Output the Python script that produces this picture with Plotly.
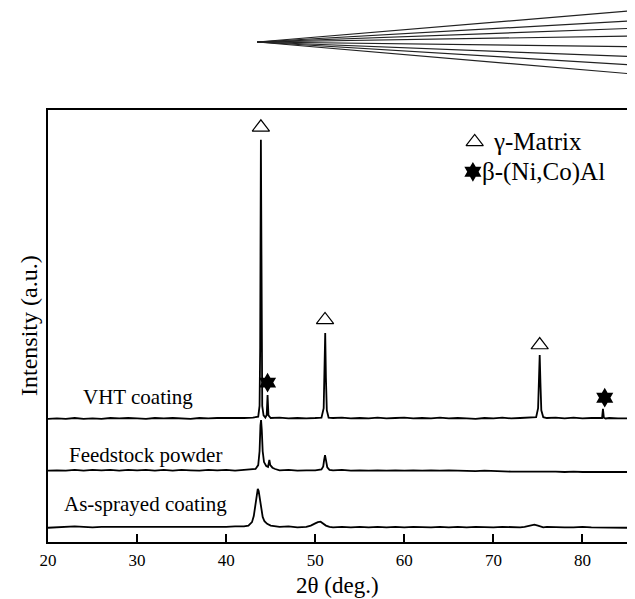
import plotly.graph_objects as go

# ---------------- data (2θ in degrees, intensity in arbitrary stacked units) ----------------
vht_x = [20, 21, 22, 23, 24, 25, 26, 27, 28, 29, 30, 31, 32, 33, 34, 35, 36, 37, 38, 39, 40, 41, 42, 43,
         43.6, 43.75, 43.82, 43.9, 43.97, 44.05, 44.2, 44.4, 44.55, 44.65, 44.75, 45.0, 46, 47, 48, 49, 50,
         50.7, 50.95, 51.05, 51.12, 51.2, 51.3, 51.5, 52, 53, 54, 55, 56, 57, 58, 59, 60, 61, 62, 63, 64,
         65, 66, 67, 68, 69, 70, 71, 72, 73, 74, 74.8, 75.02, 75.12, 75.2, 75.28, 75.38, 75.6, 76, 77, 78,
         79, 80, 81, 82, 82.2, 82.3, 82.4, 82.6, 83, 84, 85]
vht_y = [28.5, 28.6, 28.5, 28.7, 28.5, 28.6, 28.5, 28.7, 28.6, 28.7, 28.6, 28.5, 28.7, 28.6, 28.7, 28.6, 28.5, 28.7, 28.6, 28.7, 28.7, 28.6, 28.7, 28.8,
         29.0, 31.5, 45.0, 93.1, 45.0, 31.5, 29.3, 28.8, 29.4, 34.0, 29.3, 28.7, 28.8, 28.6, 28.7, 28.6, 28.7,
         28.8, 31.0, 38.0, 48.4, 38.0, 30.5, 28.8, 28.7, 28.8, 28.6, 28.7, 28.6, 28.8, 28.6, 28.7, 28.8, 28.6, 28.7, 28.6, 28.8,
         28.6, 28.7, 28.6, 28.5, 28.7, 28.6, 28.8, 28.6, 28.7, 28.8, 28.9, 31.0, 37.0, 43.3, 37.0, 30.5, 28.9, 28.7, 28.8, 28.6,
         28.8, 28.6, 28.7, 28.6, 28.7, 30.8, 28.8, 28.6, 28.7, 28.6, 28.6]

feed_x = [20, 21, 22, 23, 24, 25, 26, 27, 28, 29, 30, 31, 32, 33, 34, 35, 36, 37, 38, 39, 40, 41, 42, 43,
          43.3, 43.6, 43.75, 43.85, 43.92, 44.0, 44.1, 44.25, 44.5, 44.7, 44.85, 44.95, 45.2, 45.5, 46, 47, 48, 49, 50,
          50.7, 50.9, 51.0, 51.1, 51.2, 51.35, 51.6, 52, 53, 54, 55, 56, 57, 58, 59, 60, 61, 62, 63, 64,
          65, 66, 67, 68, 69, 70, 71, 72, 73, 74, 75, 76, 77, 78, 79, 80, 81, 82, 83, 84, 85]
feed_y = [16.5, 16.6, 16.5, 16.7, 16.5, 16.7, 16.6, 16.7, 16.5, 16.7, 16.6, 16.7, 16.5, 16.7, 16.5, 16.7, 16.6, 16.5, 16.7, 16.6, 16.7, 16.5, 16.7, 16.8,
          16.9, 17.8, 21.0, 27.0, 28.2, 26.0, 21.0, 18.5, 17.6, 17.4, 19.0, 17.8, 17.2, 16.9, 16.6, 16.7, 16.5, 16.6, 16.6,
          16.8, 17.5, 19.0, 20.1, 19.0, 17.3, 16.7, 16.6, 16.7, 16.5, 16.6, 16.5, 16.6, 16.5, 16.6, 16.5, 16.6, 16.5, 16.6, 16.5,
          16.6, 16.5, 16.5, 16.4, 16.5, 16.4, 16.4, 16.3, 16.3, 16.3, 16.4, 16.3, 16.3, 16.2, 16.3, 16.2, 16.2, 16.2, 16.2, 16.2, 16.2]

spray_x = [20, 21, 22, 23, 24, 25, 26, 27, 28, 29, 30, 31, 32, 33, 34, 35, 36, 37, 38, 39, 40, 41, 42,
           42.5, 42.9, 43.1, 43.3, 43.45, 43.55, 43.65, 43.8, 43.95, 44.1, 44.3, 44.6, 45, 46, 47, 48, 49,
           49.5, 50, 50.3, 50.6, 50.9, 51.2, 51.6, 52, 53, 54, 55, 56, 57, 58, 59, 60, 61, 62, 63, 64,
           65, 66, 67, 68, 69, 70, 71, 72, 73, 73.5, 74.2, 74.6, 75, 75.6, 76, 77, 78, 79, 80, 81, 82, 83, 84, 85]
spray_y = [3.3, 3.4, 3.4, 3.6, 3.5, 3.4, 3.5, 3.5, 3.4, 3.5, 3.4, 3.5, 3.5, 3.4, 3.5, 3.4, 3.5, 3.5, 3.4, 3.5, 3.5, 3.6, 3.6,
           3.8, 4.6, 6.0, 9.0, 11.6, 12.3, 11.8, 9.5, 7.2, 5.8, 4.8, 4.2, 3.8, 3.5, 3.6, 3.4, 3.5,
           3.8, 4.3, 4.6, 4.7, 4.3, 3.8, 3.5, 3.4, 3.5, 3.4, 3.5, 3.4, 3.5, 3.4, 3.5, 3.4, 3.5, 3.4, 3.4, 3.5,
           3.4, 3.5, 3.4, 3.5, 3.4, 3.4, 3.5, 3.4, 3.4, 3.5, 3.9, 4.0, 3.8, 3.4, 3.5, 3.4, 3.4, 3.4, 3.5, 3.4, 3.4, 3.4, 3.4, 3.3]

# phase markers above the VHT peaks
gamma_x = [43.9, 51.1, 75.2]
gamma_y = [96.0, 51.4, 45.6]
beta_x = [44.65, 82.5]
beta_y = [36.9, 33.4]

trace_labels = ["VHT coating", "Feedstock powder", "As-sprayed coating"]
label_x = [30.05, 30.9, 30.9]
label_y = [33.6, 20.1, 8.8]

legend_texts = ["γ-Matrix", "β-(Ni,Co)Al"]

x_ticks = [20, 30, 40, 50, 60, 70, 80]
x_range = [20, 85]
y_range = [0, 100]

FONT = "Liberation Serif, Times New Roman, serif"
PAGE = 8                      # default body margin of the html page
W, H = 635 - PAGE, 599 - PAGE
ML, MR, MT, MB = 48 - PAGE, 6, 110 - PAGE, 57

# decorative fan of lines above the chart (pixel positions in the page)
fan_apex = (258, 42)
fan_end_y = [10.7, 20.7, 28.3, 36, 46.7, 56.7, 65, 74]

fig = go.Figure()
for xs, ys in [(vht_x, vht_y), (feed_x, feed_y), (spray_x, spray_y)]:
    fig.add_trace(go.Scatter(x=xs, y=ys, mode="lines",
                             line=dict(color="black", width=1.8), showlegend=False,
                             hoverinfo="skip"))

fig.add_trace(go.Scatter(x=gamma_x, y=gamma_y, mode="markers",
                         marker=dict(symbol="triangle-up-open", size=15, color="black",
                                     line=dict(width=1.2, color="black")),
                         showlegend=False))
fig.add_trace(go.Scatter(x=beta_x, y=beta_y, mode="markers",
                         marker=dict(symbol="hexagram", size=15, color="black",
                                     line=dict(width=0)),
                         showlegend=False))

# in-plot legend
fig.add_trace(go.Scatter(x=[67.9], y=[92.6], mode="markers",
                         marker=dict(symbol="triangle-up-open", size=15, color="black",
                                     line=dict(width=1.2, color="black")),
                         showlegend=False))
fig.add_trace(go.Scatter(x=[67.7], y=[85.7], mode="markers",
                         marker=dict(symbol="hexagram", size=15, color="black", line=dict(width=0)),
                         showlegend=False))
fig.add_annotation(x=69.7, y=92.8, text=legend_texts[0], showarrow=False, xanchor="left",
                   yanchor="middle", font=dict(family=FONT, size=25, color="black"))
fig.add_annotation(x=68.5, y=85.7, text=legend_texts[1], showarrow=False, xanchor="left",
                   yanchor="middle", font=dict(family=FONT, size=25, color="black"))

for t, lx, ly in zip(trace_labels, label_x, label_y):
    fig.add_annotation(x=lx, y=ly, text=t, showarrow=False, xanchor="center", yanchor="middle",
                       font=dict(family=FONT, size=21, color="black"))

# axis titles
fig.add_annotation(x=0.5, y=0, xref="paper", yref="paper", yshift=-43, text="2θ (deg.)",
                   showarrow=False, xanchor="center", yanchor="middle",
                   font=dict(family=FONT, size=23, color="black"))
fig.add_annotation(x=0, y=0.5, xref="paper", yref="paper", xshift=-19, text="Intensity (a.u.)",
                   textangle=-90, showarrow=False, xanchor="center", yanchor="middle",
                   font=dict(family=FONT, size=24, color="black"))

# fan of lines at top (paper coordinates derived from page pixel positions)
pw = W - ML - MR
ph = H - MT - MB
ax_, ay_ = fan_apex
for ey in fan_end_y:
    fig.add_shape(type="line", xref="paper", yref="paper",
                  x0=(ax_ - PAGE - ML) / pw, y0=(H - MB - (ay_ - PAGE)) / ph,
                  x1=(W - ML) / pw, y1=(H - MB - (ey - PAGE)) / ph,
                  line=dict(color="#222", width=1.2))

fig.update_xaxes(range=x_range, tickvals=x_ticks, ticktext=[str(v) for v in x_ticks],
                 ticks="inside", ticklen=8, tickwidth=2, tickcolor="black",
                 showline=True, linecolor="black", linewidth=2, mirror=True,
                 showgrid=False, zeroline=False, ticklabelstandoff=2,
                 tickfont=dict(family=FONT, size=17, color="black"))
fig.update_yaxes(range=y_range, showticklabels=False, ticks="",
                 showline=True, linecolor="black", linewidth=2, mirror=True,
                 showgrid=False, zeroline=False)

fig.update_layout(width=W, height=H, margin=dict(l=ML, r=MR, t=MT, b=MB),
                  paper_bgcolor="white", plot_bgcolor="white", showlegend=False,
                  font=dict(family=FONT, color="black"))

fig.write_html("out.html")
